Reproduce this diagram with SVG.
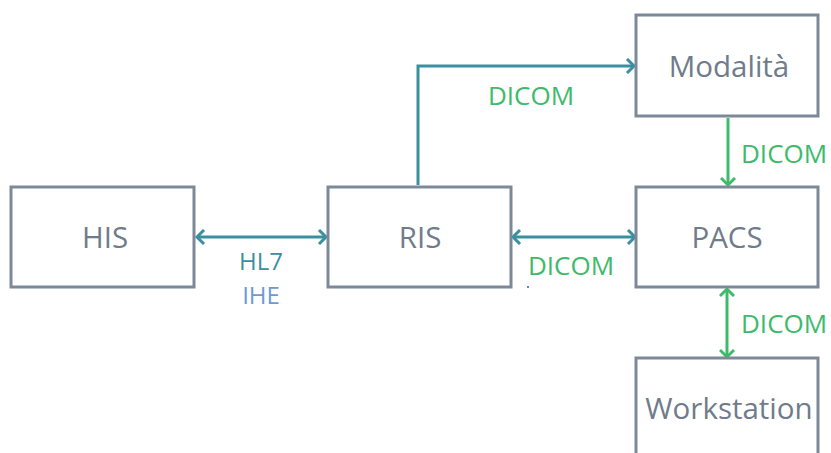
<svg xmlns="http://www.w3.org/2000/svg" width="831" height="453" viewBox="0 0 831 453">
<defs>
<style>
.box{fill:#fff;stroke:#7d8997;stroke-width:3}
.nt{font-family:"Open Sans","Liberation Sans",sans-serif;font-size:29.5px;fill:#6f7c8b;text-anchor:middle}
.lb{font-family:"Open Sans","Liberation Sans",sans-serif;font-size:26px}
.sm{font-size:24px}
.g{fill:#3dbb6b}
.teal{stroke:#3b8fa0;stroke-width:3;fill:none}
.grn{stroke:#3dbb6b;stroke-width:3;fill:none}
</style>
<marker id="at" markerWidth="12" markerHeight="16" refX="9" refY="8" orient="auto-start-reverse" markerUnits="userSpaceOnUse"><path d="M2,1 L9,8 L2,15" fill="none" stroke="#3b8fa0" stroke-width="3"/></marker>
<marker id="ag" markerWidth="12" markerHeight="16" refX="9" refY="8" orient="auto-start-reverse" markerUnits="userSpaceOnUse"><path d="M2,1 L9,8 L2,15" fill="none" stroke="#3dbb6b" stroke-width="3"/></marker>
</defs>
<rect width="831" height="453" fill="#fff"/>
<g id="connectors">
<path class="teal" d="M197,237 H326" marker-start="url(#at)" marker-end="url(#at)"/>
<path class="teal" d="M513,237 H635" marker-start="url(#at)" marker-end="url(#at)"/>
<path class="teal" d="M418,185 V66 H634" marker-end="url(#at)"/>
<path class="grn" d="M728,118 V185" marker-end="url(#ag)"/>
<path class="grn" d="M727,289 V357" marker-start="url(#ag)" marker-end="url(#ag)"/>
<text class="lb sm" x="261" y="270" text-anchor="middle" fill="#3b8fa0">HL7</text>
<text class="lb sm" x="261" y="303.5" text-anchor="middle" fill="#6b9bd1">IHE</text>
<text class="lb g" x="571" y="275" text-anchor="middle">DICOM</text>
<text class="lb g" x="531" y="105" text-anchor="middle">DICOM</text>
<text class="lb g" x="741" y="163">DICOM</text>
<text class="lb g" x="741" y="333">DICOM</text>
<circle cx="528" cy="287" r="1" fill="#4040ff"/>
</g>
<g id="his"><rect class="box" x="11" y="187" width="183" height="100"/><text class="nt" x="105" y="248">HIS</text></g>
<g id="ris"><rect class="box" x="328" y="187" width="183" height="100"/><text class="nt" x="420" y="248">RIS</text></g>
<g id="pacs"><rect class="box" x="636" y="187" width="182" height="100"/><text class="nt" x="727" y="248">PACS</text></g>
<g id="modalita"><rect class="box" x="636" y="15" width="182" height="101"/><text class="nt" x="729" y="77">Modalità</text></g>
<g id="workstation"><rect class="box" x="636" y="358" width="182" height="110"/><text class="nt" x="729" y="419">Workstation</text></g>
</svg>
